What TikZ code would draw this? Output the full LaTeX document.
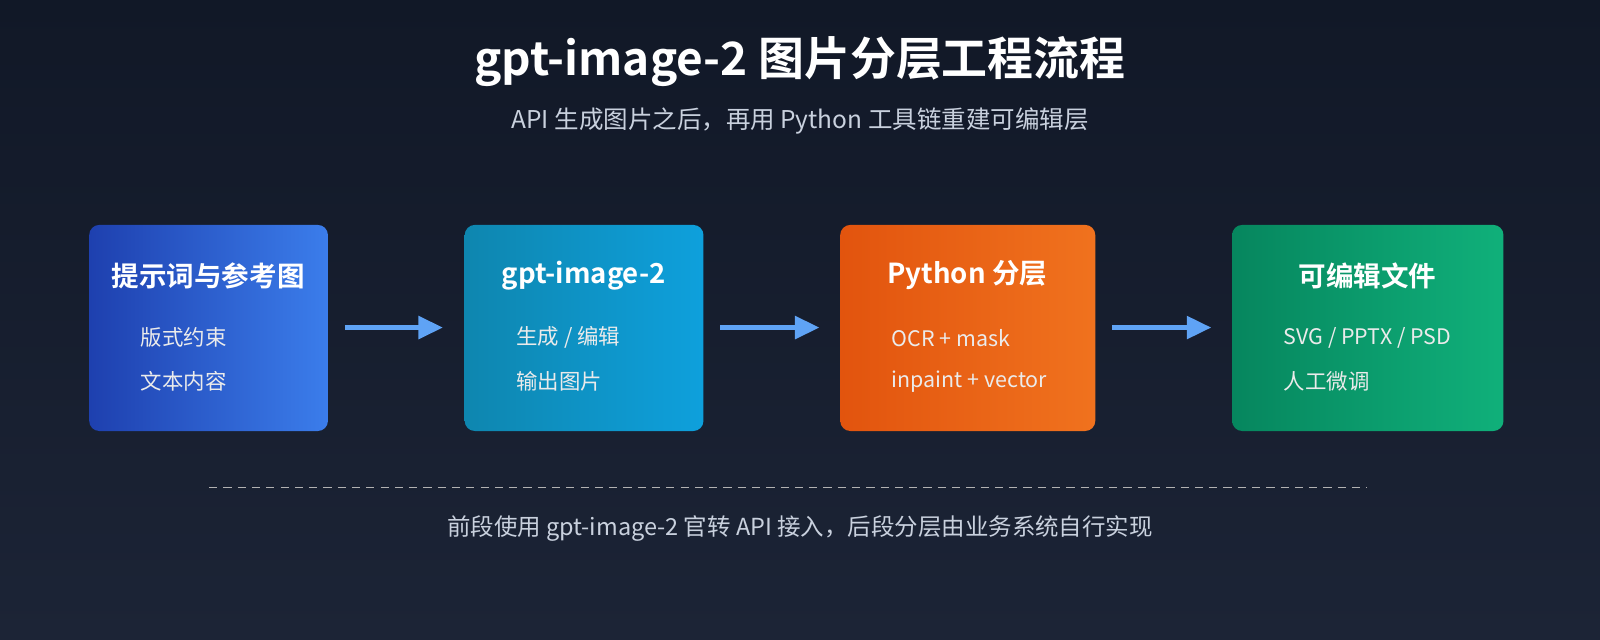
\documentclass[tikz,border=0pt]{standalone}
\usepackage{fontspec}
\setmainfont{Noto Sans CJK SC}[BoldFont={Noto Sans CJK SC Bold}]
\usetikzlibrary{positioning}
\usetikzlibrary{arrows.meta}
\definecolor{bgtop}{HTML}{111827}
\definecolor{bgbot}{HTML}{1C2436}
\definecolor{subtxt}{HTML}{C9D1DE}
\definecolor{arrowc}{HTML}{5FA3F5}
\begin{document}
\begin{tikzpicture}[x=0.5pt,y=-0.5pt]

  \tikzstyle{stage}=[rounded corners=5pt, minimum width=117pt, minimum height=101pt, anchor=north west]
  \tikzstyle{head}=[text=white, font=\bfseries\fontsize{13.5}{15}\selectfont]
  \tikzstyle{item}=[text=white!92!black, font=\fontsize{10.5}{12}\selectfont, anchor=west]
  \tikzstyle{connect}=[arrowc, line width=2.2pt, -{Triangle[length=12pt,width=11pt]}]

  \shade[top color=bgtop, bottom color=bgbot] (0,0) rectangle (1568,627);
  \useasboundingbox (0,0) rectangle (1568,627);

  \node[text=white, font=\bfseries\fontsize{22.5}{25}\selectfont] (title) at (784,60) {gpt-image-2 图片分层工程流程};
  \node[text=subtxt, font=\fontsize{12}{14}\selectfont] (subtitle) at (784,119) {API 生成图片之后，再用 Python 工具链重建可编辑层};

  \node[stage, left color={rgb,255:red,30;green,64;blue,175}, right color={rgb,255:red,59;green,125;blue,235}] (prompt) at (87,220) {};
  \node[stage, left color={rgb,255:red,14;green,134;blue,175}, right color={rgb,255:red,14;green,160;blue,220}] (model) at (455,220) {};
  \node[stage, minimum width=125pt, left color={rgb,255:red,226;green,84;blue,14}, right color={rgb,255:red,240;green,114;blue,30}] (python) at (823,220) {};
  \node[stage, minimum width=133pt, left color={rgb,255:red,6;green,134;blue,94}, right color={rgb,255:red,16;green,176;blue,122}] (files) at (1207,220) {};

  \node[head] at (204,270) {提示词与参考图};
  \node[item] at (131,331) {版式约束};
  \node[item] at (131,374) {文本内容};

  \node[head] at (572,270) {gpt-image-2};
  \node[item] at (499,331) {生成 / 编辑};
  \node[item] at (499,374) {输出图片};

  \node[head] at (948,270) {Python 分层};
  \node[item] at (867,331) {OCR + mask};
  \node[item] at (867,374) {inpaint + vector};

  \node[head] at (1340,270) {可编辑文件};
  \node[item] at (1251,331) {SVG / PPTX / PSD};
  \node[item] at (1251,374) {人工微调};

  \coordinate (a1) at (338,321); \coordinate (b1) at (434,321);
  \coordinate (a2) at (706,321); \coordinate (b2) at (803,321);
  \coordinate (a3) at (1090,321); \coordinate (b3) at (1187,321);
  \draw[connect] (a1) -- (b1);
  \draw[connect] (a2) -- (b2);
  \draw[connect] (a3) -- (b3);

  \coordinate (d1) at (205,478); \coordinate (d2) at (1340,478);
  \draw[gray!60, dash pattern=on 4pt off 3pt, line width=0.6pt] (d1) -- (d2);
  \node[text=subtxt, font=\fontsize{11.5}{13}\selectfont] (footer) at (784,518) {前段使用 gpt-image-2 官转 API 接入，后段分层由业务系统自行实现};

\end{tikzpicture}
\end{document}
